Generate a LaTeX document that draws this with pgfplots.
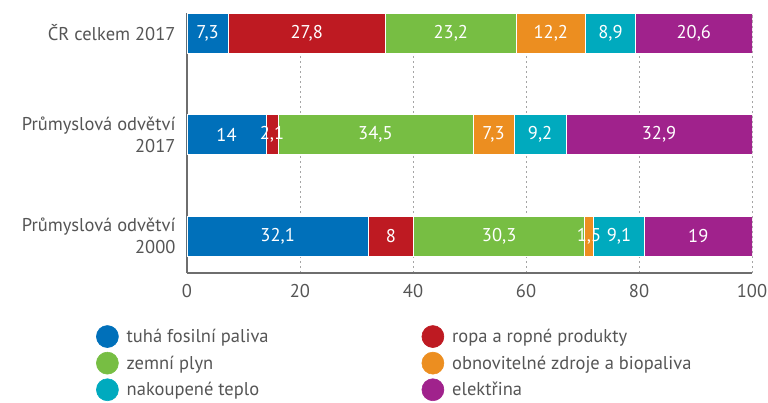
\documentclass[border=0pt]{standalone}
\usepackage{pgfplots}
\usepackage{pgfplotstable}
\pgfplotsset{compat=1.18}
\usepackage{fontspec}
\setmainfont{PT Sans}
\definecolor{cblue}{RGB}{0,112,186}
\definecolor{cred}{RGB}{190,26,34}
\definecolor{cgreen}{RGB}{119,190,67}
\definecolor{corange}{RGB}{236,142,32}
\definecolor{cteal}{RGB}{0,170,190}
\definecolor{cpurple}{RGB}{160,34,140}
\definecolor{txt}{RGB}{85,85,85}
\definecolor{axgray}{RGB}{110,110,110}
\definecolor{gridgray}{RGB}{165,165,165}
\pgfplotstableread{
pos tuha ropa zemni obnov teplo elek
0 32.1 8 30.3 1.5 9.1 19
1 14 2.1 34.5 7.3 9.2 32.9
2 7.3 27.8 23.2 12.2 8.9 20.6
}\datatable
% label positions (segment centres) and label texts
\pgfplotstableread{
mid pos lab
3.65 2 7,3
21.2 2 27,8
46.7 2 23,2
64.4 2 12,2
74.95 2 8,9
89.7 2 20,6
7 1 14
15.05 1 2,1
33.35 1 34,5
54.25 1 7,3
62.5 1 9,2
83.55 1 32,9
16.05 0 32,1
36.1 0 8
55.25 0 30,3
71.15 0 1,5
76.45 0 9,1
90.5 0 19
}\labtable
\pgfplotsset{
  seg/.style={fill=#1, draw=white, line width=0.6bp,
    legend image code/.code={\fill[#1] (11bp,0bp) circle (11bp);}},
  geom/.style={scale only axis, width=565bp, height=260bp,
    xmin=0, xmax=100, ymin=-0.3645, ymax=2.197},
}
\newcommand{\ff}{\fontsize{18.5bp}{22bp}\selectfont}
\begin{document}
\begin{tikzpicture}
\begin{axis}[
  geom,
  xbar stacked, bar width=40bp,
  axis x line*=bottom, axis y line*=left,
  axis line style={axgray, line width=1.3bp},
  xtick={0,20,...,100}, ytick={0,1,2},
  yticklabels={{Průmyslová odvětví\\2000},{Průmyslová odvětví\\2017},{ČR celkem 2017}},
  major tick length=0pt,
  xmajorgrids,
  major x grid style={gridgray, dash pattern=on 2.5bp off 2.5bp, line width=0.7bp},
  tick label style={txt, font=\ff},
  xticklabel style={yshift=-8bp},
  yticklabel style={align=right, xshift=-8bp},
  /pgf/number format/assume math mode=true,
  legend columns=2,
  legend style={at={(rel axis cs:-0.1665,-0.1925)}, anchor=north west,
    draw=none, fill=none, font=\ff, text=txt,
    nodes={inner sep=1bp}, row sep=4bp,
    /tikz/every odd column/.append style={column sep=7bp},
    /tikz/every even column/.append style={column sep=152bp}},
  legend cell align=left,
]
\addplot[seg=cblue] table[x=tuha, y=pos] {\datatable};
\addplot[seg=cred] table[x=ropa, y=pos] {\datatable};
\addplot[seg=cgreen] table[x=zemni, y=pos] {\datatable};
\addplot[seg=corange] table[x=obnov, y=pos] {\datatable};
\addplot[seg=cteal] table[x=teplo, y=pos] {\datatable};
\addplot[seg=cpurple] table[x=elek, y=pos] {\datatable};
\legend{tuhá fosilní paliva, ropa a ropné produkty, zemní plyn, obnovitelné zdroje a biopaliva, nakoupené teplo, elektřina}
\end{axis}
\begin{axis}[geom, hide axis]
\addplot[only marks, mark=*, mark size=0pt, draw=none,
  point meta=explicit symbolic,
  nodes near coords={\pgfplotspointmeta},
  nodes near coords align=center,
  every node near coord/.append style={white, font=\ff, anchor=center, inner sep=0pt}]
  table[x=mid, y=pos, meta=lab] {\labtable};
\end{axis}
\pgfresetboundingbox
\path[use as bounding box] ([shift={(-187bp,-130bp)}]current axis.south west) rectangle ([shift={(581bp,273bp)}]current axis.south west);
\end{tikzpicture}
\end{document}
